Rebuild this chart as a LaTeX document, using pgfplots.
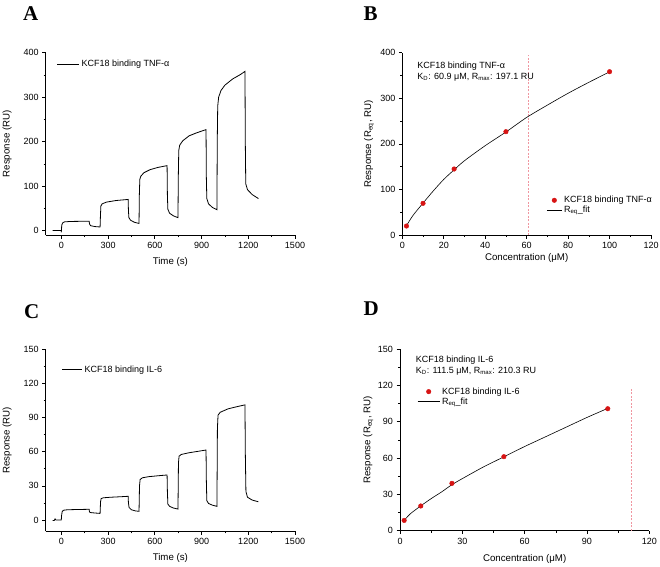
\documentclass[border=0pt]{standalone}
\usepackage{fontspec}
\setmainfont{Liberation Sans}
\newfontfamily\timesfont{Liberation Serif}
\usepackage{pgfplots}
\pgfplotsset{compat=1.18}

\definecolor{dotred}{RGB}{215,20,20}
\definecolor{dashred}{RGB}{240,150,160}

\pgfplotsset{
  linelegend/.style={legend image code/.code={\draw[##1] (0pt,0pt) -- (#1,0pt);}},
  dotlegend/.style={legend image code/.code={\draw[##1, mark repeat=2, mark phase=2]
      plot coordinates {(0pt,0pt) (#1/2,0pt) (#1,0pt)};}},
  panel/.style={
  scale only axis,
  axis lines=left,
  axis line style={-, line width=0.6pt},
  tick align=outside,
  major tick length=3.5pt,
  minor tick length=2pt,
  every tick/.style={black, line width=0.6pt},
  minor tick num=1,
  tick label style={font=\fontsize{9}{10}\selectfont},
  label style={font=\fontsize{9.7}{11}\selectfont},
  /pgf/number format/assume math mode=true,
  /pgf/number format/1000 sep={},
  legend style={draw=none, fill=none, font=\fontsize{9}{10}\selectfont,
    row sep=-2pt, inner sep=1pt},
  legend cell align=left,
}}

\begin{document}
\begin{tikzpicture}
\useasboundingbox (0,0) rectangle (660pt,566pt);

% panel letters
\node[anchor=base west, inner sep=0] at (23pt,545.3pt) {\timesfont\bfseries\fontsize{21}{21}\selectfont A};
\node[anchor=base west, inner sep=0] at (363.3pt,545.3pt) {\timesfont\bfseries\fontsize{21}{21}\selectfont B};
\node[anchor=base west, inner sep=0] at (24pt,247.3pt) {\timesfont\bfseries\fontsize{21}{21}\selectfont C};
\node[anchor=base west, inner sep=0] at (363.3pt,250.7pt) {\timesfont\bfseries\fontsize{21}{21}\selectfont D};

% ---------- A ----------
\begin{axis}[panel,
  at={(45.7pt,331pt)}, anchor=south west,
  width=249.3pt, height=182.3pt,
  xmin=-100, xmax=1500, ymin=-10, ymax=400,
  xtick={0,300,...,1500}, ytick={0,100,...,400},
  xlabel={Time (s)}, ylabel={Response (RU)},
  xlabel style={at={(axis description cs:0.5,-0.146)}, anchor=center},
  ylabel style={at={(axis description cs:-0.155,0.5)}, anchor=center},
  legend style={at={(axis description cs:0.04,0.975)}, anchor=north west},
]
\addplot[black, line width=0.8pt, linelegend=22pt] coordinates {
(-55,0) (-1,0) (0,-4) (3,12) (8,17) (20,19.5) (60,20.5) (179,21)
(181,15) (188,11) (215,9) (249,8)
(251,30) (254,55) (262,60) (290,64) (350,67.5) (429,70)
(431,45) (434,29) (445,23) (470,18.5) (499,16)
(501,80) (504,115) (510,122) (530,130) (570,137) (620,142) (679,146)
(681,80) (684,48) (695,39) (720,33) (749,29)
(751,120) (754,180) (760,192) (780,202) (820,213) (870,220) (929,227)
(931,120) (934,72) (945,60) (970,52) (999,47)
(1001,200) (1004,280) (1010,300) (1025,315) (1050,327) (1100,341) (1150,351) (1179,358)
(1181,200) (1184,105) (1195,92) (1225,81) (1265,72)
};
\addlegendentry{KCF18 binding TNF-α}
\end{axis}

% ---------- B ----------
\begin{axis}[panel,
  at={(402.3pt,331pt)}, anchor=south west,
  width=248.7pt, height=182.3pt,
  xmin=0, xmax=120, ymin=0, ymax=400,
  xtick={0,20,...,120}, ytick={0,100,...,400},
  xlabel={Concentration (μM)}, ylabel={Response (R\textsubscript{eq}, RU)},
  xlabel style={at={(axis description cs:0.5,-0.128)}, anchor=center},
  ylabel style={at={(axis description cs:-0.134,0.5)}, anchor=center},
  legend style={at={(axis description cs:0.575,0.23)}, anchor=north west},
]
\addplot[dashred, dash pattern=on 2pt off 1.5pt, line width=1pt, forget plot] coordinates {(60.9,0) (60.9,396)};
\addplot[only marks, mark=*, mark size=2.3pt, color=dotred, dotlegend=15pt] coordinates {
(2,19.7) (10,69.5) (25,144.8) (50,226.7) (100,358.3)
};
\addlegendentry{KCF18 binding TNF-α}
\addplot[black, line width=0.6pt, smooth, linelegend=15pt] coordinates {
(2,20) (5,42) (10,70) (15,97) (20,122) (25,143) (30,163) (40,196) (50,226)
(60,258) (70,285) (80,311) (90,335) (100,358)
};
\addlegendentry{R\textsubscript{eq}\_fit}
\node[anchor=north west, align=left, inner sep=0, font=\fontsize{9}{11.5}\selectfont]
  at (axis description cs:0.06,0.952)
  {KCF18 binding TNF-α\\K\textsubscript{D}: 60.9 μM, R\textsubscript{max}: 197.1 RU};
\end{axis}

% ---------- C ----------
\begin{axis}[panel,
  at={(45.7pt,34.6pt)}, anchor=south west,
  width=249.3pt, height=182.4pt,
  xmin=-100, xmax=1500, ymin=-10, ymax=150,
  xtick={0,300,...,1500}, ytick={0,30,...,150},
  xlabel={Time (s)}, ylabel={Response (RU)},
  xlabel style={at={(axis description cs:0.5,-0.146)}, anchor=center},
  ylabel style={at={(axis description cs:-0.155,0.5)}, anchor=center},
  legend style={at={(axis description cs:0.06,0.925)}, anchor=north west},
]
\addplot[black, line width=0.8pt, linelegend=20pt] coordinates {
(-55,-0.5) (-45,-0.5) (-40,1) (-35,0) (-1,0) (0,0) (2,4) (6,7.5) (15,8.6) (40,9) (100,9.2) (179,9.4)
(181,7) (190,6.5) (220,6.1) (249,5.8)
(252,16) (256,18.8) (270,19.5) (320,20) (380,20.4) (429,20.8)
(431,15) (435,11) (450,9) (475,8) (499,7.6)
(502,30) (506,35.5) (520,37) (560,38) (620,38.8) (679,39.5)
(681,25) (684,14) (695,12) (720,10.5) (749,9.6)
(752,50) (756,56) (770,57.5) (820,59) (880,60.3) (929,61.4)
(931,35) (934,17) (945,14.5) (970,13) (999,12)
(1002,80) (1006,92) (1020,94.5) (1070,97.5) (1130,99.5) (1179,101)
(1181,60) (1185,25) (1195,20) (1225,17.5) (1265,16)
};
\addlegendentry{KCF18 binding IL-6}
\end{axis}

% ---------- D ----------
\begin{axis}[panel,
  at={(400pt,35.3pt)}, anchor=south west,
  width=249.3pt, height=181.7pt,
  xmin=0, xmax=120, ymin=0, ymax=150,
  xtick={0,30,...,120}, ytick={0,30,...,150},
  xlabel={Concentration (μM)}, ylabel={Response (R\textsubscript{eq}, RU)},
  xlabel style={at={(axis description cs:0.5,-0.154)}, anchor=center},
  ylabel style={at={(axis description cs:-0.127,0.5)}, anchor=center},
  legend style={at={(axis description cs:0.065,0.805)}, anchor=north west},
]
\addplot[dashred, dash pattern=on 2pt off 1.5pt, line width=1pt, forget plot] coordinates {(111.5,0) (111.5,118)};
\addplot[only marks, mark=*, mark size=2.3pt, color=dotred, dotlegend=22pt] coordinates {
(2,8.5) (10,20.4) (25,39.1) (50,61.1) (100,100.7)
};
\addlegendentry{KCF18 binding IL-6}
\addplot[black, line width=0.6pt, smooth, linelegend=22pt] coordinates {
(2,8.5) (5,14) (10,20.5) (15,26.5) (20,32) (25,38) (30,43) (40,52.5) (50,61)
(60,69.5) (70,77.5) (80,85.5) (90,93.5) (100,101)
};
\addlegendentry{R\textsubscript{eq}\_fit}
\node[anchor=north west, align=left, inner sep=0, font=\fontsize{9}{11}\selectfont]
  at (axis description cs:0.063,0.962)
  {KCF18 binding IL-6\\K\textsubscript{D}: 111.5 μM, R\textsubscript{max}: 210.3 RU};
\end{axis}
\end{tikzpicture}
\end{document}
